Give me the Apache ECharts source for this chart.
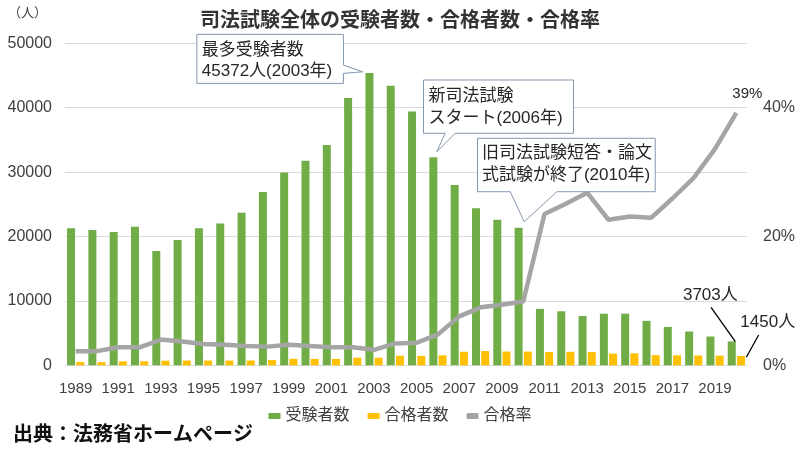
<!DOCTYPE html>
<html><head><meta charset="utf-8">
<script src="https://cdn.jsdelivr.net/npm/echarts@6/dist/echarts.min.js"></script>
<style>html,body{margin:0;padding:0;background:#fff}#c{width:800px;height:455px}</style>
</head><body><div id="c"></div>
<script>
// ---- data ----
const years = ['1989','1990','1991','1992','1993','1994','1995','1996','1997','1998','1999','2000','2001','2002','2003','2004','2005','2006','2007','2008','2009','2010','2011','2012','2013','2014','2015','2016','2017','2018','2019','2020'];
const examinees = [21300,21000,20700,21500,17750,19450,21300,22000,23700,26900,29950,31750,34200,41500,45372,43400,39400,32300,28000,24400,22600,21350,8765,8387,7653,8015,8016,6899,5967,5238,4466,3703];
const passers = [506,499,605,630,712,740,738,734,746,812,1000,994,990,1183,1170,1483,1464,1558,2099,2209,2135,2133,2063,2102,2049,1810,1850,1583,1543,1525,1502,1450];
const passRate = [2.2,2.2,2.8,2.8,4.0,3.7,3.3,3.2,3.0,2.9,3.2,3.0,2.8,2.8,2.4,3.4,3.5,4.8,7.6,9.0,9.4,9.9,23.5,25.1,26.8,22.6,23.1,22.9,25.9,29.1,33.6,39.2];
const leftAxis = {min:0, max:50000, interval:10000};
const rightAxis = {min:0, max:50, interval:10, shown:[0,20,40]};
const seriesNames = ['受験者数','合格者数','合格率'];
const titleText = '司法試験全体の受験者数・合格者数・合格率';
const unitText = '（人）';
const sourceText = '出典：法務省ホームページ';
const callouts = [
  {year:'2003', text:'最多受験者数\n45372人(2003年)'},
  {year:'2006', text:'新司法試験\nスタート(2006年)'},
  {year:'2010', text:'旧司法試験短答・論文\n式試験が終了(2010年)'}
];

const FONT = "'Liberation Sans','Noto Sans CJK JP',sans-serif";
const GREEN = '#70ad47', YELLOW = '#ffc000', GRAY = '#a5a5a5', TXT = '#404040';

const chart = echarts.init(document.getElementById('c'), null, {renderer:'canvas'});
const lastIdx = passRate.length - 1;

chart.setOption({
  animation:false,
  textStyle:{fontFamily:FONT},
  title:{text:titleText, left:'center', top:6, textStyle:{fontSize:20, fontWeight:'bold', color:'#333', fontFamily:FONT}},
  grid:{left:65, right:53, top:43.3, bottom:89.7},
  legend:{data:[{name:seriesNames[0], icon:'rect'},{name:seriesNames[1], icon:'rect'},{name:seriesNames[2], icon:'roundRect'}],
    left:'center', top:403, itemWidth:12, itemHeight:6, itemGap:18,
    textStyle:{fontSize:16, color:TXT, fontFamily:FONT}},
  xAxis:{type:'category', data:years,
    axisTick:{show:false}, axisLine:{lineStyle:{color:'#d9d9d9'}},
    axisLabel:{interval:1, fontSize:15, color:TXT, margin:16, fontFamily:FONT}},
  yAxis:[
    {type:'value', min:leftAxis.min, max:leftAxis.max, interval:leftAxis.interval,
      splitLine:{lineStyle:{color:'#d9d9d9'}}, axisLine:{show:false}, axisTick:{show:false},
      axisLabel:{fontSize:16, color:TXT, margin:13, fontFamily:FONT, formatter:v => String(v)}},
    {type:'value', min:rightAxis.min, max:rightAxis.max, interval:rightAxis.interval,
      splitLine:{show:false}, axisLine:{show:false}, axisTick:{show:false},
      axisLabel:{fontSize:16, color:TXT, margin:16, fontFamily:FONT,
        formatter:v => rightAxis.shown.indexOf(v) >= 0 ? v + '%' : ''}}
  ],
  series:[
    {name:seriesNames[0], type:'bar', data:examinees, barWidth:8, barGap:'15%', itemStyle:{color:GREEN}},
    {name:seriesNames[1], type:'bar', data:passers, barWidth:8, itemStyle:{color:YELLOW}},
    {name:seriesNames[2], type:'line', yAxisIndex:1, symbol:'none', z:5,
      lineStyle:{color:GRAY, width:4.5}, itemStyle:{color:GRAY}, data:passRate}
  ]
});

// ---- annotations anchored to data ----
const barHalf = 4.6;
function greenTop(year, val){ const p = chart.convertToPixel({xAxisIndex:0, yAxisIndex:0}, [year, val]); return [p[0]-barHalf, p[1]]; }
function yellowTop(year, val){ const p = chart.convertToPixel({xAxisIndex:0, yAxisIndex:0}, [year, val]); return [p[0]+barHalf, p[1]]; }

const layouts = [
  {box:[-172.6,-38.7,-26,10.3], tail:'right', base:[-8,0.3], tip:[-6.6,-1.3], pad:5, line1:15.7, lh:21},
  {box:[-9.9,-77.3,140.1,-24], tail:'bottom', base:[11.8,21.8], tip:[3.5,-5.6], pad:5, line1:16.7, lh:22},
  {box:[-41.1,-89.5,136.6,-36.1], tail:'bottom', base:[-8.4,38.3], tip:[5.6,-6.1], pad:4.4, line1:15, lh:21.7}
];
const graphics = [];
callouts.forEach((c, k) => {
  const idx = years.indexOf(c.year);
  const a = greenTop(c.year, examinees[idx]);
  const L = layouts[k];
  const x0 = a[0]+L.box[0], y0 = a[1]+L.box[1], x1 = a[0]+L.box[2], y1 = a[1]+L.box[3];
  const tip = [a[0]+L.tip[0], a[1]+L.tip[1]];
  let pts;
  if (L.tail === 'right') {
    pts = [[x0,y0],[x1,y0],[x1,a[1]+L.base[0]],tip,[x1,a[1]+L.base[1]],[x1,y1],[x0,y1]];
  } else {
    pts = [[x0,y0],[x1,y0],[x1,y1],[a[0]+L.base[1],y1],tip,[a[0]+L.base[0],y1],[x0,y1]];
  }
  graphics.push({type:'polygon', z:100, shape:{points:pts}, style:{fill:'#fff', stroke:'#8497b0', lineWidth:1}});
  const lines = c.text.split('\n');
  lines.forEach((t, j) => {
    graphics.push({type:'text', z:101, style:{text:t, x:x0+L.pad, y:y0+L.line1+j*L.lh, fontSize:17, fontFamily:FONT,
      fill:'#262626', textVerticalAlign:'middle'}});
  });
});

// last-year value labels with leader lines
const gl = greenTop(years[lastIdx], examinees[lastIdx]);
const yl = yellowTop(years[lastIdx], passers[lastIdx]);
graphics.push({type:'line', z:100, shape:{x1:gl[0]-20.7, y1:gl[1]-34.2, x2:gl[0]+3.6, y2:gl[1]+0.2}, style:{stroke:'#000', lineWidth:1.3}});
graphics.push({type:'text', z:101, style:{text:examinees[lastIdx]+'人', x:gl[0]-21.4, y:gl[1]-46.5, fontSize:17, fontFamily:FONT, fill:'#262626', textAlign:'center', textVerticalAlign:'middle'}});
graphics.push({type:'line', z:100, shape:{x1:yl[0]+17.7, y1:yl[1]-21, x2:yl[0]+5.4, y2:yl[1]+1.3}, style:{stroke:'#000', lineWidth:1.3}});
graphics.push({type:'text', z:101, style:{text:passers[lastIdx]+'人', x:yl[0]+26.8, y:yl[1]-33.3, fontSize:17, fontFamily:FONT, fill:'#262626', textAlign:'center', textVerticalAlign:'middle'}});

// last pass-rate label
const rp = chart.convertToPixel({xAxisIndex:0, yAxisIndex:1}, [years[lastIdx], passRate[lastIdx]]);
graphics.push({type:'text', z:101, style:{text:Math.round(passRate[lastIdx])+'%', x:rp[0]+11, y:rp[1]-19, fontSize:15, fontFamily:FONT, fill:'#262626', textAlign:'center', textVerticalAlign:'middle'}});

// unit and source
graphics.push({type:'text', z:101, style:{text:unitText, x:8, y:13, fontSize:13, fontFamily:FONT, fill:TXT, textVerticalAlign:'middle'}});
graphics.push({type:'text', z:101, style:{text:sourceText, x:13, y:435, fontSize:20, fontWeight:'bold', fontFamily:FONT, fill:'#111', textVerticalAlign:'middle'}});

chart.setOption({graphic:graphics});
</script>
</body></html>
